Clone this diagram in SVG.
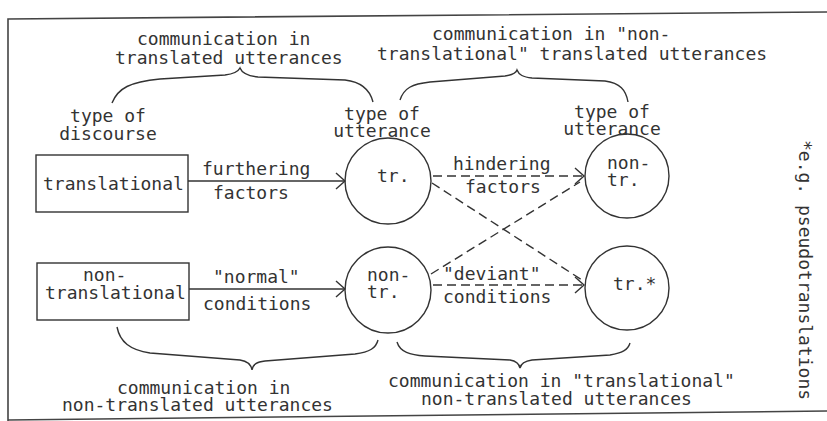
<svg xmlns="http://www.w3.org/2000/svg" width="827" height="421" viewBox="0 0 827 421">
<defs>
<style>
text{font-family:"DejaVu Sans Mono","Liberation Mono",monospace;font-size:18px;fill:#333}
.c{text-anchor:middle}
.ln{stroke:#333;stroke-width:1.4;fill:none}
.d{stroke-dasharray:9 5}
.fr{stroke:#444;stroke-width:1.6;fill:none}
</style>
<marker id="ah" markerUnits="userSpaceOnUse" markerWidth="12" markerHeight="20" refX="10" refY="9" orient="auto" viewBox="0 0 12 20">
<path d="M1,1 L10,9 L1,17" fill="none" stroke="#333" stroke-width="1.4"/>
</marker>
</defs>
<rect width="827" height="421" fill="#fff"/>
<g id="frame">
<path class="fr" d="M827,12 L8,19 L8,421"/>
<path class="fr" d="M8,420 L827,411"/>
</g>
<g id="labels">
<text x="137" y="45">communication in</text>
<text x="115" y="64">translated utterances</text>
<text x="432" y="40">communication in "non-</text>
<text x="377" y="60">translational" translated utterances</text>
<text class="c" x="108" y="122">type of</text>
<text class="c" x="108" y="140">discourse</text>
<text class="c" x="382" y="120">type of</text>
<text class="c" x="382" y="137">utterance</text>
<text class="c" x="612" y="118">type of</text>
<text class="c" x="612" y="135">utterance</text>
<text x="117" y="394">communication in</text>
<text x="62" y="411">non-translated utterances</text>
<text x="388" y="387">communication in "translational"</text>
<text x="421" y="405">non-translated utterances</text>
<text transform="translate(799,140) rotate(90)">*e.g. pseudotranslations</text>
</g>
<g id="braces">
<path class="ln" d="M112,103 C118,88 130,82 160,79 L225,75 C233,74 238,72 240,68 C242,73 248,76 258,77 L345,80 C362,82 370,90 373,102"/>
<path class="ln" d="M400,100 C404,88 412,84 430,82 L505,76 C512,75 516,73 517,70 C519,75 523,77 532,78 L605,81 C620,83 626,90 628,102"/>
<path class="ln" d="M117,327 C120,342 130,350 150,353 L240,360 C247,361 251,364 252,370 C253,364 257,362 265,361 L355,354 C370,352 376,348 378,340"/>
<path class="ln" d="M397,342 C400,352 410,355 425,356 L510,360 C516,361 519,363 520,368 C521,363 525,361 532,360 L610,355 C622,353 628,350 630,343"/>
</g>
<g id="node-translational">
<rect class="ln" x="36" y="155" width="152" height="57"/>
<text x="43" y="190">translational</text>
</g>
<g id="node-nontranslational">
<rect class="ln" x="37" y="263" width="152" height="57"/>
<text x="83" y="281">non-</text>
<text x="45" y="299">translational</text>
</g>
<g id="node-tr">
<circle class="ln" cx="388" cy="181" r="43"/>
<text x="377" y="182">tr.</text>
</g>
<g id="node-nontr">
<circle class="ln" cx="388" cy="290" r="43"/>
<text x="367" y="281">non-</text>
<text x="367" y="298">tr.</text>
</g>
<g id="node-nontr2">
<circle class="ln" cx="627" cy="176" r="42"/>
<text x="607" y="169">non-</text>
<text x="607" y="186">tr.</text>
</g>
<g id="node-trstar">
<circle class="ln" cx="627" cy="288" r="42"/>
<text x="613" y="290">tr.*</text>
</g>
<g id="connectors">
<path class="ln" d="M188,181 L345,181" marker-end="url(#ah)"/>
<path class="ln" d="M189,289 L345,289" marker-end="url(#ah)"/>
<path class="ln d" d="M433,176 L584,176" marker-end="url(#ah)"/>
<path class="ln d" d="M433,285 L584,285" marker-end="url(#ah)"/>
<path class="ln d" d="M432,183 L582,280"/>
<path class="ln d" d="M431,274 L580,182"/>
<text x="202" y="175">furthering</text>
<text x="213" y="199">factors</text>
<text x="213" y="283">"normal"</text>
<text x="203" y="310">conditions</text>
<text x="453" y="170">hindering</text>
<text x="465" y="193">factors</text>
<text x="443" y="280">"deviant"</text>
<text x="443" y="303">conditions</text>
</g>
</svg>
